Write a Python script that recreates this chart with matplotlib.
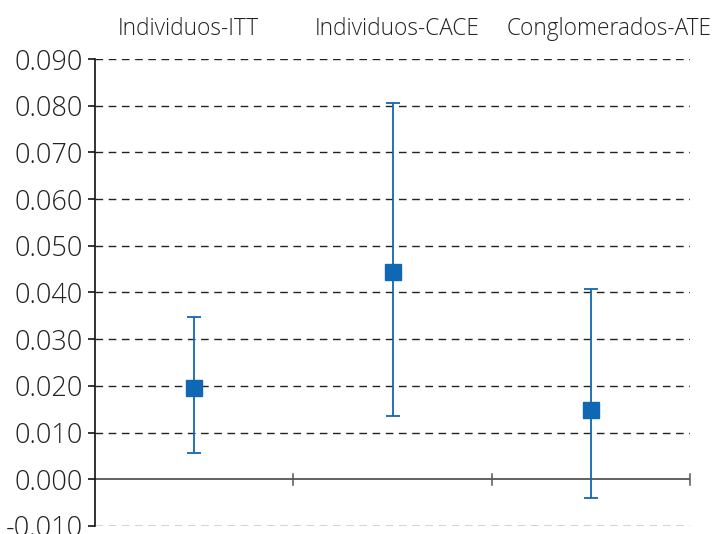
import matplotlib
matplotlib.use("Agg")
import matplotlib.pyplot as plt
import numpy as np

# point estimates and confidence bounds per estimator
categories = ["Individuos-ITT", "Individuos-CACE", "Conglomerados-ATE"]
estimates = [0.0195, 0.0443, 0.0148]
lower = [0.0056, 0.0135, -0.0039]
upper = [0.0347, 0.0805, 0.0407]
yticks = [-0.010, 0.000, 0.010, 0.020, 0.030, 0.040, 0.050, 0.060, 0.070, 0.080, 0.090]

plt.rcParams["font.family"] = ["Open Sans", "DejaVu Sans"]
plt.rcParams["font.weight"] = "light"

fig = plt.figure(figsize=(7.15, 5.34), dpi=100)
ax = fig.add_axes([0.133, 0.015, 0.832, 0.8745])

x = np.arange(len(categories)) + 0.5
est = np.array(estimates)
err = np.vstack([est - np.array(lower), np.array(upper) - est])

blue = "#1068b4"
ax.errorbar(x, est, yerr=err, fmt="s", color=blue, ecolor=blue,
            markersize=11, elinewidth=1.3, capsize=5, capthick=1.3, zorder=4)

# dashed reference lines, solid zero line
for v in yticks:
    if v == 0:
        continue
    ax.axhline(v, color="#222222", linestyle=(0, (5.5, 4)), linewidth=1.0, zorder=1)
ax.axhline(0, color="#555555", linewidth=1.3, zorder=2)

ax.set_xlim(0, len(categories))
ax.set_ylim(-0.010, 0.090)
ax.set_yticks(yticks)
ax.set_yticklabels(["{:.3f}".format(v) for v in yticks], fontsize=19.5,
                   color="#222222", fontweight="light")
ax.tick_params(axis="y", direction="out", length=5, width=1.1, pad=4)

ax.set_xticks([])
for b in range(1, len(categories) + 1):
    ax.plot([b, b], [-0.0012, 0.0012], color="#555555", linewidth=1.1,
            zorder=3, clip_on=False)

ax.spines["top"].set_visible(False)
ax.spines["right"].set_visible(False)
ax.spines["bottom"].set_visible(False)
ax.spines["left"].set_color("#111111")
ax.spines["left"].set_linewidth(1.2)

# header labels sit above each column, nudged so the long ones don't collide
label_shift = [-0.03, 0.025, 0.09]
for xi, dx, name in zip(x, label_shift, categories):
    ax.text(xi + dx, 1.065, name, transform=ax.get_xaxis_transform(),
            ha="center", va="center", fontsize=16.3, color="#222222",
            fontweight="light")

fig.savefig("out.png", dpi=100)
